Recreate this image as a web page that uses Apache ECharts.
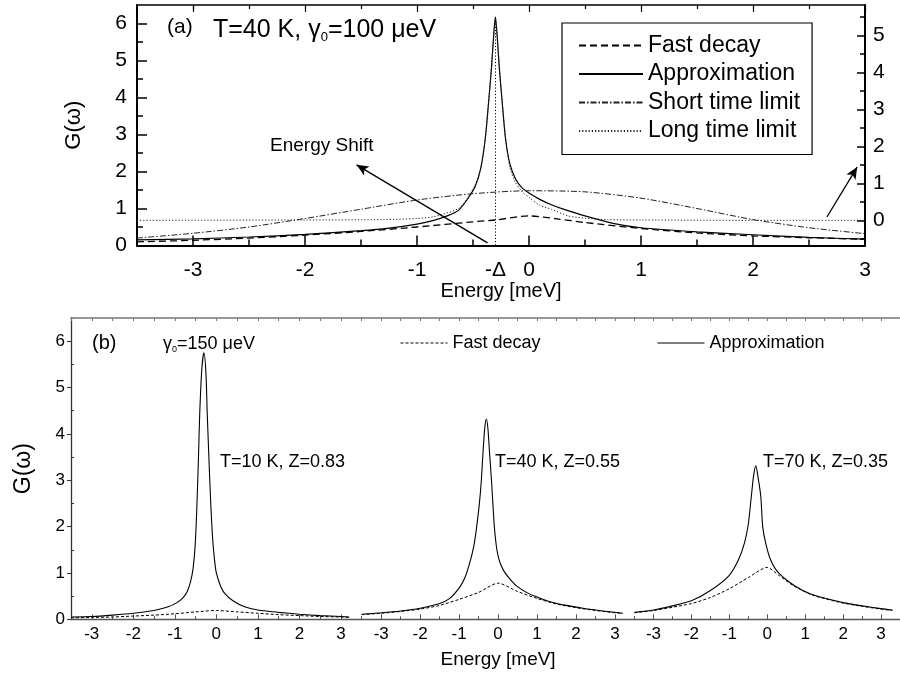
<!DOCTYPE html>
<html>
<head>
<meta charset="utf-8">
<script src="https://cdn.jsdelivr.net/npm/echarts@6/dist/echarts.min.js"></script>
<style>html,body{margin:0;padding:0;background:#fff}#c{width:900px;height:675px}</style>
</head>
<body>
<div id="c"></div>
<script>
// ---------- Panel (a) data: T=40 K, gamma0=100 ueV ----------
const aFastX = [-3.5,-3,-2.5,-2,-1.5,-1,-0.5,-0.3,0,0.25,0.5,1,1.5,2,2.5,3];
const aFastY = [0.1,0.14,0.2,0.28,0.38,0.5,0.64,0.69,0.8,0.72,0.62,0.46,0.34,0.26,0.21,0.17];
const aApproxX = [-3.5,-3,-2.5,-2,-1.5,-1.25,-1,-0.85,-0.73,-0.63,-0.55,-0.48,-0.43,-0.39,-0.36,-0.335,-0.315,-0.3,-0.285,-0.265,-0.24,-0.21,-0.17,-0.12,-0.06,0,0.1,0.2,0.3,0.5,0.75,1,1.5,2,2.5,3];
const aApproxY = [0.15,0.18,0.23,0.3,0.4,0.47,0.58,0.68,0.8,0.95,1.25,1.6,2.1,2.9,3.9,4.8,5.7,6.17,5.7,4.8,3.9,2.9,2.2,1.8,1.55,1.42,1.24,1.1,0.99,0.8,0.6,0.48,0.37,0.29,0.22,0.17];
const aShortX = [-3.5,-3,-2.5,-2,-1.5,-1,-0.5,0,0.5,1,1.5,2,2.5,3];
const aShortY = [0.2,0.33,0.5,0.73,0.98,1.23,1.4,1.48,1.45,1.28,1.0,0.7,0.48,0.32];
const aLongX = [-3.5,-2,-1.3,-1,-0.85,-0.74,-0.63,-0.54,-0.48,-0.43,-0.39,-0.36,-0.335,-0.315,-0.3,-0.285,-0.265,-0.24,-0.21,-0.17,-0.12,-0.06,0,0.1,0.2,0.35,0.5,0.7,1,2,3];
const aLongY = [0.68,0.69,0.7,0.73,0.78,0.87,1.0,1.32,1.65,2.1,2.9,3.9,4.8,5.7,6.15,5.7,4.8,3.9,2.9,2.1,1.7,1.45,1.3,1.08,0.98,0.8,0.74,0.7,0.69,0.68,0.68];

// ---------- Panel (b) data: gamma0=150 ueV ----------
const b1ApproxX = [-3.5,-3,-2.5,-2,-1.5,-1.16,-0.95,-0.8,-0.7,-0.62,-0.56,-0.51,-0.47,-0.43,-0.4,-0.35,-0.3,-0.25,-0.22,-0.18,-0.14,-0.09,-0.04,0,0.1,0.2,0.4,0.68,1,1.5,2,2.5,3,3.2];
const b1ApproxY = [0.05,0.06,0.09,0.13,0.19,0.27,0.36,0.47,0.6,0.82,1.1,1.6,2.4,3.5,4.45,5.4,5.75,5.3,4.45,3.5,2.6,1.75,1.25,1.0,0.72,0.56,0.4,0.27,0.2,0.15,0.11,0.08,0.06,0.05];
const b1FastX = [-3.5,-3,-2.5,-2,-1.5,-1,-0.5,0,0.5,1,1.5,2,2.5,3,3.2];
const b1FastY = [0.03,0.04,0.05,0.07,0.09,0.12,0.16,0.19,0.16,0.13,0.1,0.08,0.06,0.05,0.04];
const b2ApproxX = [-3.5,-3,-2.5,-2,-1.5,-1.24,-0.98,-0.85,-0.73,-0.63,-0.56,-0.48,-0.43,-0.38,-0.34,-0.3,-0.26,-0.22,-0.17,-0.12,-0.09,-0.04,0,0.05,0.15,0.3,0.47,0.75,1,1.33,1.75,2.18,2.7,3.2];
const b2ApproxY = [0.11,0.14,0.18,0.24,0.34,0.45,0.7,0.9,1.21,1.55,1.93,2.5,3.0,3.7,4.15,4.32,4.1,3.6,3.0,2.3,1.93,1.55,1.37,1.22,1.04,0.87,0.72,0.57,0.48,0.38,0.3,0.24,0.18,0.13];
const b2FastX = [-3.5,-3,-2.5,-2,-1.5,-1,-0.5,0,0.5,1,1.5,2,2.5,3,3.2];
const b2FastY = [0.1,0.13,0.17,0.22,0.3,0.43,0.58,0.78,0.6,0.45,0.33,0.25,0.19,0.14,0.13];
const b3ApproxX = [-3.5,-3,-2.5,-2,-1.5,-1,-0.75,-0.6,-0.5,-0.42,-0.36,-0.3,-0.24,-0.17,-0.12,-0.04,0.09,0.3,0.73,1.16,1.5,2,2.5,3,3.3];
const b3ApproxY = [0.15,0.2,0.29,0.4,0.62,0.95,1.3,1.65,2.05,2.65,3.1,3.31,3.05,2.65,2.0,1.64,1.28,1.0,0.72,0.54,0.46,0.36,0.29,0.23,0.2];
const b3FastX = [-3.5,-3,-2.5,-2,-1.5,-1,-0.5,0,0.3,0.7,1.2,2,2.5,3,3.3];
const b3FastY = [0.14,0.19,0.26,0.34,0.47,0.66,0.9,1.12,0.95,0.72,0.52,0.35,0.28,0.22,0.19];

// ---------- tick labels ----------
const aXTicks = [-3,-2,-1,0,1,2,3];
const aXMinor = [-3,-2.5,-1.5,-0.5,0.5,1.5,2.5];
const aXLabels = [-3,-2,-1,-0.3,0,1,2,3];
const aYTicks = [0,1,2,3,4,5,6];
const aYMinor = [0.5,1.5,2.5,3.5,4.5,5.5];
const aY2Ticks = [0,1,2,3,4,5];
const aY2Minor = [-0.5,0.5,1.5,2.5,3.5,4.5,5.5];
const bXTicks = [-3,-2,-1,0,1,2,3];
const bXMinor = [-3.5,-2.5,-1.5,-0.5,0.5,1.5,2.5,3.5];
const bXTop = [-3.5,-3,-2.5,-2,-1.5,-1,-0.5,0,0.5,1,1.5,2,2.5,3,3.5];
const bYTicks = [0,1,2,3,4,5,6];
const bYMinor = [0.5,1.5,2.5,3.5,4.5,5.5];
const deltaShift = -0.3;
const rightAxisOffset = 0.68; // right scale of (a) = left scale - 0.68

const pair = (xs, ys) => xs.map((x, i) => [x, ys[i]]);
const FONT = "'Liberation Sans', Arial, sans-serif";
const BLK = '#000';

function xAx(o) {
  return Object.assign({
    type: 'value', splitLine: {show: false},
    axisLine: {show: false, onZero: false},
    axisTick: {show: false}, axisLabel: {show: false}
  }, o);
}
function yAx(o) { return xAx(o); }

const chart = echarts.init(document.getElementById('c'), null, {renderer: 'canvas'});

const xAxes = [
  // panel (a) grid 0
  xAx({gridIndex: 0, min: -3.5, max: 3, position: 'bottom',
    axisLine: {show: true, onZero: false, lineStyle: {color: BLK, width: 2}},
    axisTick: {show: true, inside: true, length: 10, customValues: aXTicks, lineStyle: {color: BLK, width: 1.5}},
    axisLabel: {show: true, customValues: aXLabels, margin: 14, fontSize: 21, fontFamily: FONT, color: BLK,
      formatter: v => Math.abs(v - deltaShift) < 1e-6 ? '-Δ' : String(v)},
    name: 'Energy [meV]', nameLocation: 'middle', nameGap: 26,
    nameTextStyle: {fontSize: 20, fontFamily: FONT, color: BLK}}),
  xAx({gridIndex: 0, min: -3.5, max: 3, position: 'bottom',
    axisTick: {show: true, inside: true, length: 6, customValues: aXMinor, lineStyle: {color: BLK, width: 1.5}}}),
  xAx({gridIndex: 0, min: -3.5, max: 3, position: 'top',
    axisLine: {show: true, onZero: false, lineStyle: {color: BLK, width: 1.5}},
    axisTick: {show: true, inside: true, length: 7, customValues: aXTicks, lineStyle: {color: BLK, width: 1.2}}}),
  xAx({gridIndex: 0, min: -3.5, max: 3, position: 'top',
    axisTick: {show: true, inside: true, length: 4, customValues: aXMinor, lineStyle: {color: BLK, width: 1.2}}}),
];
const yAxes = [
  yAx({gridIndex: 0, min: 0, max: 6.5, position: 'left',
    axisLine: {show: true, onZero: false, lineStyle: {color: BLK, width: 2}},
    axisTick: {show: true, inside: true, length: 10, customValues: aYTicks, lineStyle: {color: BLK, width: 1.5}},
    axisLabel: {show: true, customValues: aYTicks, margin: 10, fontSize: 21, fontFamily: FONT, color: BLK},
    name: 'G(ω)', nameLocation: 'middle', nameGap: 52, nameRotate: 90,
    nameTextStyle: {fontSize: 22, fontFamily: FONT, color: BLK}}),
  yAx({gridIndex: 0, min: 0, max: 6.5, position: 'left',
    axisTick: {show: true, inside: true, length: 6, customValues: aYMinor, lineStyle: {color: BLK, width: 1.5}}}),
  yAx({gridIndex: 0, min: -rightAxisOffset, max: 6.5 - rightAxisOffset, position: 'right',
    axisLine: {show: true, onZero: false, lineStyle: {color: BLK, width: 2}},
    axisTick: {show: true, inside: true, length: 8, customValues: aY2Ticks, lineStyle: {color: BLK, width: 1.5}},
    axisLabel: {show: true, customValues: aY2Ticks, margin: 8, fontSize: 21, fontFamily: FONT, color: BLK}}),
  yAx({gridIndex: 0, min: -rightAxisOffset, max: 6.5 - rightAxisOffset, position: 'right',
    axisTick: {show: true, inside: true, length: 5, customValues: aY2Minor, lineStyle: {color: BLK, width: 1.5}}}),
];

// panel (b): three grids, indices 1..3
const GRAY = '#555';
for (let g = 1; g <= 3; g++) {
  xAxes.push(xAx({gridIndex: g, min: -3.5, max: 3.5, position: 'bottom',
    axisLine: {show: true, onZero: false, lineStyle: {color: GRAY, width: 1.3}},
    axisTick: {show: true, inside: true, length: 5, customValues: bXTicks, lineStyle: {color: GRAY, width: 1}},
    axisLabel: {show: true, customValues: bXTicks, margin: 7, fontSize: 17, fontFamily: FONT, color: BLK},
    name: g === 2 ? 'Energy [meV]' : '', nameLocation: 'middle', nameGap: 31,
    nameTextStyle: {fontSize: 19, fontFamily: FONT, color: BLK}}));
  xAxes.push(xAx({gridIndex: g, min: -3.5, max: 3.5, position: 'bottom',
    axisTick: {show: true, inside: true, length: 3, customValues: bXMinor, lineStyle: {color: GRAY, width: 1}}}));
  xAxes.push(xAx({gridIndex: g, min: -3.5, max: 3.5, position: 'top',
    axisLine: {show: true, onZero: false, lineStyle: {color: '#777', width: 1.5}},
    axisTick: {show: true, inside: true, length: 3, customValues: bXTop, lineStyle: {color: '#777', width: 1}}}));
}
yAxes.push(yAx({gridIndex: 1, min: 0, max: 6.5, position: 'left',
  axisLine: {show: true, onZero: false, lineStyle: {color: '#333', width: 1.3}},
  axisTick: {show: true, inside: false, length: 4, customValues: bYTicks, lineStyle: {color: '#333', width: 1}},
  axisLabel: {show: true, customValues: bYTicks, margin: 6, fontSize: 17, fontFamily: FONT, color: BLK},
  name: 'G(ω)', nameLocation: 'middle', nameGap: 36, nameRotate: 90,
  nameTextStyle: {fontSize: 23, fontFamily: FONT, color: BLK}}));
yAxes.push(yAx({gridIndex: 1, min: 0, max: 6.5, position: 'left',
  axisTick: {show: true, inside: true, length: 3, customValues: bYMinor, lineStyle: {color: '#333', width: 1}}}));
yAxes.push(yAx({gridIndex: 2, min: 0, max: 6.5, show: false}));
yAxes.push(yAx({gridIndex: 3, min: 0, max: 6.5, show: false}));

function line(name, data, xi, yi, style, extra) {
  return Object.assign({
    type: 'line', name: name, data: data, xAxisIndex: xi, yAxisIndex: yi,
    symbol: 'none', showSymbol: false, smooth: 0.25, silent: true,
    color: BLK, itemStyle: {color: BLK, opacity: 0},
    lineStyle: style, z: 3
  }, extra || {});
}
const dashA = {color: BLK, width: 1.3, type: [7, 4]};
const solidA = {color: BLK, width: 1.2, type: 'solid'};
const dashDotA = {color: '#222', width: 1, type: [6, 2, 1.5, 2]};
const dotA = {color: '#222', width: 1, type: [1.2, 2]};
const solidB = {color: BLK, width: 1.1, type: 'solid'};
const dashB = {color: BLK, width: 1, type: [3, 2]};

const series = [
  line('Fast decay', pair(aFastX, aFastY), 0, 0, dashA),
  line('Approximation', pair(aApproxX, aApproxY), 0, 0, solidA, {
    markLine: {
      silent: true, animation: false, symbol: ['none', 'arrow'], symbolSize: [8, 12],
      label: {show: false},
      data: [
        [{coord: [deltaShift, 0], symbol: 'none', lineStyle: {type: [1.2, 2], color: BLK, width: 1}},
         {coord: [deltaShift, 6.17], symbol: 'none'}],
        [{coord: [-0.37, 0.07], lineStyle: {type: 'solid', color: BLK, width: 1.3}},
         {coord: [-1.54, 2.18]}],
        [{coord: [2.66, 0.77], lineStyle: {type: 'solid', color: BLK, width: 1.3}},
         {coord: [2.93, 2.12]}]
      ]
    }
  }),
  line('Short time limit', pair(aShortX, aShortY), 0, 0, dashDotA),
  line('Long time limit', pair(aLongX, aLongY), 0, 0, dotA),
  line('Fast decay', pair(b1FastX, b1FastY), 4, 4, dashB),
  line('Approximation', pair(b1ApproxX, b1ApproxY), 4, 4, solidB),
  line('Fast decay', pair(b2FastX, b2FastY), 7, 6, dashB),
  line('Approximation', pair(b2ApproxX, b2ApproxY), 7, 6, solidB),
  line('Fast decay', pair(b3FastX, b3FastY), 10, 7, dashB),
  line('Approximation', pair(b3ApproxX, b3ApproxY), 10, 7, solidB),
];

function txt(x, y, text, size, extra) {
  return {type: 'text', x: x, y: y, silent: true, z: 10,
    style: Object.assign({text: text, fontSize: size, fontFamily: FONT, fill: BLK,
      textAlign: 'left', textVerticalAlign: 'middle'}, extra || {})};
}
const richMain = (fs) => ({
  m: {fontSize: fs, fontFamily: FONT, lineHeight: fs + 2, verticalAlign: 'middle'},
  s: {fontSize: Math.round(fs * 0.5), fontFamily: FONT, lineHeight: Math.round(fs * 0.5), verticalAlign: 'bottom'}
});
const noSymbol = {opacity: 0, borderWidth: 0, color: 'transparent'};

const option = {
  backgroundColor: '#fff',
  animation: false,
  color: [BLK],
  textStyle: {fontFamily: FONT},
  grid: [
    {left: 137, top: 5, width: 728, height: 240.5},
    {left: 71, top: 318, width: 290.7, height: 301.3},
    {left: 361.7, top: 318, width: 272.8, height: 301.3},
    {left: 634.5, top: 318, width: 272.5, height: 301.3}
  ],
  xAxis: xAxes,
  yAxis: yAxes,
  legend: [
    {data: ['Fast decay', 'Approximation', 'Short time limit', 'Long time limit'],
     orient: 'vertical', left: 562, top: 23, padding: [11, 12, 12, 16],
     borderColor: BLK, borderWidth: 1.2, itemWidth: 64, itemHeight: 14, itemGap: 5.5,
     selectedMode: false, itemStyle: noSymbol,
     textStyle: {fontSize: 23, lineHeight: 23, fontFamily: FONT, color: BLK}},
    {data: ['Fast decay'], orient: 'horizontal', left: 400, top: 334, padding: 0,
     itemWidth: 47, itemHeight: 10, selectedMode: false, itemStyle: noSymbol,
     lineStyle: {type: [3, 2], width: 1, color: BLK},
     textStyle: {fontSize: 18, fontFamily: FONT, color: BLK}},
    {data: ['Approximation'], orient: 'horizontal', left: 657, top: 334, padding: 0,
     itemWidth: 47, itemHeight: 10, selectedMode: false, itemStyle: noSymbol,
     lineStyle: {type: 'solid', width: 1, color: BLK},
     textStyle: {fontSize: 18, fontFamily: FONT, color: BLK}}
  ],
  graphic: [
    txt(167, 27, '(a)', 21),
    {type: 'text', x: 213, y: 30, silent: true, z: 10,
     style: {text: '{m|T=40 K, γ}{s|0}{m|=100 μeV}', rich: richMain(25), fill: BLK,
       textAlign: 'left', textVerticalAlign: 'middle', fontFamily: FONT}},
    txt(270, 146, 'Energy Shift', 19),
    txt(92, 343, '(b)', 20),
    {type: 'text', x: 163, y: 344, silent: true, z: 10,
     style: {text: '{m|γ}{s|0}{m|=150 μeV}', rich: richMain(18), fill: BLK,
       textAlign: 'left', textVerticalAlign: 'middle', fontFamily: FONT}},
    txt(220, 462, 'T=10 K, Z=0.83', 18),
    txt(495, 462, 'T=40 K, Z=0.55', 18),
    txt(763, 462, 'T=70 K, Z=0.35', 18)
  ],
  series: series
};
chart.setOption(option);
</script>
</body>
</html>
